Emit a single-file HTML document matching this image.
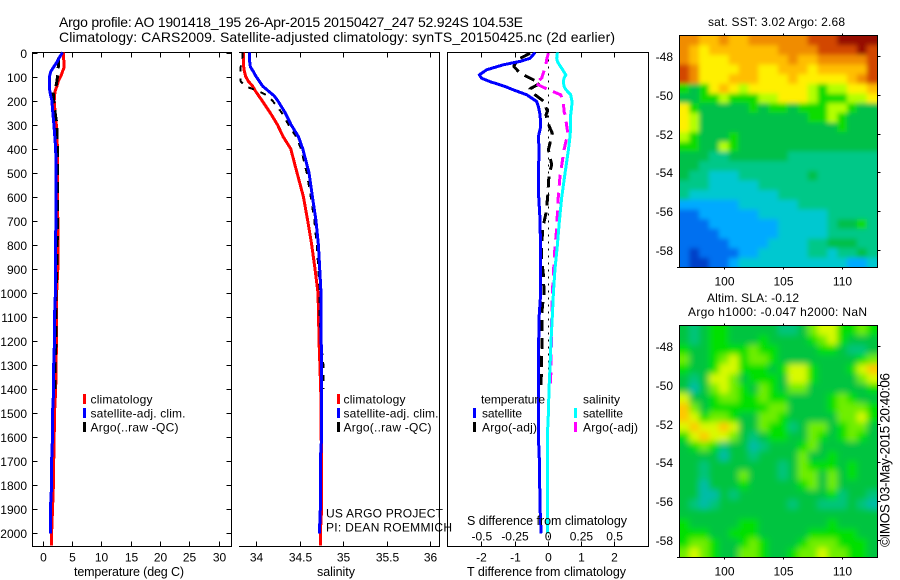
<!DOCTYPE html>
<html lang="en">
<head>
<meta charset="utf-8">
<title>Argo profile 1901418_195</title>
<style>
html,body{margin:0;padding:0;background:#fff;width:900px;height:580px;overflow:hidden}
svg{display:block}
text{font-family:"Liberation Sans",Arial,sans-serif;font-size:12px;fill:#000}
.title{font-size:14px}
.lab{font-size:12.5px}
.credit{font-size:13.5px}
</style>
</head>
<body>
<svg id="chart" xmlns="http://www.w3.org/2000/svg" width="900" height="580" viewBox="0 0 900 580">
<defs>
<clipPath id="clip-sst"><rect x="680" y="36" width="197" height="231"/></clipPath>
<clipPath id="clip-sla"><rect x="680" y="326" width="197" height="231"/></clipPath>
<filter id="soft" x="-5%" y="-5%" width="110%" height="110%"><feGaussianBlur stdDeviation="2.4"/></filter>
<filter id="softer" x="-5%" y="-5%" width="110%" height="110%"><feGaussianBlur stdDeviation="3.2"/></filter>
</defs>
<rect width="900" height="580" fill="#fff"/>
<g id="sst-cells" clip-path="url(#clip-sst)"><g id="sst-inner" filter="url(#soft)"></g></g>
<g id="sla-cells" clip-path="url(#clip-sla)"><g id="sla-inner" filter="url(#softer)"></g></g>
<g id="axes"></g>
<g id="series"></g>

<text class="title" x="59" y="27" textLength="464" lengthAdjust="spacing">Argo profile: AO 1901418_195 26-Apr-2015 20150427_247 52.924S 104.53E</text>
<text class="title" x="59" y="42" textLength="556" lengthAdjust="spacing">Climatology: CARS2009. Satellite-adjusted climatology: synTS_20150425.nc (2d earlier)</text>

<text class="lab" x="74" y="576" textLength="110" lengthAdjust="spacing">temperature (deg C)</text>
<text class="lab" x="317" y="576" textLength="38" lengthAdjust="spacing">salinity</text>
<text class="lab" x="467" y="576" textLength="159" lengthAdjust="spacing">T difference from climatology</text>
<text class="lab" x="467" y="525" textLength="160" lengthAdjust="spacing">S difference from climatology</text>

<g>
<rect x="83" y="394" width="3" height="10" fill="#f00"/>
<text x="90.5" y="403.5" textLength="62" lengthAdjust="spacing">climatology</text>
<rect x="83" y="408" width="3" height="10" fill="#00f"/>
<text x="90.5" y="417.5" textLength="95" lengthAdjust="spacing">satellite-adj. clim.</text>
<rect x="83" y="422" width="3" height="10" fill="#000"/>
<text x="90.5" y="431.5" textLength="88" lengthAdjust="spacing">Argo(..raw -QC)</text>
</g>
<g>
<rect x="337" y="394" width="3" height="10" fill="#f00"/>
<text x="343.5" y="403.5" textLength="62" lengthAdjust="spacing">climatology</text>
<rect x="337" y="408" width="3" height="10" fill="#00f"/>
<text x="343.5" y="417.5" textLength="95" lengthAdjust="spacing">satellite-adj. clim.</text>
<rect x="337" y="422" width="3" height="10" fill="#000"/>
<text x="343.5" y="431.5" textLength="88" lengthAdjust="spacing">Argo(..raw -QC)</text>
</g>
<text x="326" y="517.5" textLength="117" lengthAdjust="spacing">US ARGO PROJECT</text>
<text x="326" y="531.5" textLength="126" lengthAdjust="spacing">PI: DEAN ROEMMICH</text>

<g>
<text x="481" y="403.5" textLength="64" lengthAdjust="spacing">temperature</text>
<rect x="473" y="408" width="3" height="10" fill="#00f"/>
<text x="482" y="417.5" textLength="40" lengthAdjust="spacing">satellite</text>
<rect x="473" y="422" width="3" height="10" fill="#000"/>
<text x="482" y="431.5" textLength="55" lengthAdjust="spacing">Argo(-adj)</text>
<text x="583" y="403.5" textLength="37" lengthAdjust="spacing">salinity</text>
<rect x="574" y="408" width="3" height="10" fill="#0ff"/>
<text x="583" y="417.5" textLength="40" lengthAdjust="spacing">satellite</text>
<rect x="574" y="422" width="3" height="10" fill="#f0f"/>
<text x="583" y="431.5" textLength="55" lengthAdjust="spacing">Argo(-adj)</text>
</g>

<text x="708" y="26" textLength="137" lengthAdjust="spacing">sat. SST: 3.02 Argo: 2.68</text>
<text x="707" y="302" textLength="92" lengthAdjust="spacing">Altim. SLA: -0.12</text>
<text x="688" y="316" textLength="179" lengthAdjust="spacing">Argo h1000: -0.047 h2000: NaN</text>
<text class="credit" transform="translate(889.5,547) rotate(-90)" x="0" y="0" textLength="174" lengthAdjust="spacing">©IMOS 03-May-2015 20:40:06</text>
</svg>

<script>
/* ---------- chart data ---------- */
const depthTicks = [0,100,200,300,400,500,600,700,800,900,1000,1100,1200,1300,1400,1500,1600,1700,1800,1900,2000];
const tempTicks = [0,5,10,15,20,25,30];
const salTicks = [34,34.5,35,35.5,36];
const tDiffTicks = [-2,-1,0,1,2];
const sDiffTicks = [-0.5,-0.25,0,0.25,0.5];
const lonTicks = [100,105,110];
const latTicks = [-48,-50,-52,-54,-56,-58];

const tempDepths = [0,20,40,60,80,100,120,140,160,180,200,250,300,350,400,500,600,700,800,900,1000,1100,1200,1300,1400,1500,1600,1700,1800,1900,2000,2050];
const tempClim = [3.6,3.6,3.65,3.7,3.4,3.1,2.7,2.45,2.15,2.05,2.0,2.15,2.35,2.45,2.55,2.55,2.55,2.6,2.6,2.6,2.4,2.4,2.4,2.3,2.25,2.05,2.0,1.9,1.85,1.7,1.55,1.5];
const tempSat = [3.4,2.9,2.45,1.9,1.4,1.2,1.15,1.15,1.25,1.4,1.6,1.75,1.95,2.1,2.25,2.3,2.3,2.3,2.2,2.2,2.2,2.05,2.05,1.9,1.9,1.7,1.7,1.55,1.55,1.35,1.35,null];
const tempArgo = [null,2.7,2.7,2.7,2.6,2.55,2.45,2.3,1.8,1.85,1.9,2.15,2.45,2.5,2.55,2.55,2.55,2.55,2.5,2.45,2.3,2.3,2.3,2.15,2.15,null,null,null,null,null,null,null];

const salDepths = [0,30,60,80,90,100,120,140,160,180,200,250,300,350,400,500,600,700,800,900,1000,1100,1200,1300,1400,1500,1600,1700,1800,1900,2000,2050];
const salClim = [33.854,33.854,33.854,33.862,33.87,33.877,33.908,33.958,33.989,34.027,34.065,34.157,34.241,34.307,34.395,34.467,34.54,34.59,34.636,34.674,34.709,34.715,34.72,34.73,34.74,34.745,34.745,34.75,34.75,34.75,34.735,34.735];
const salSat = [33.92,33.92,33.931,33.966,33.981,33.996,34.034,34.073,34.138,34.203,34.245,34.33,34.398,34.483,34.533,34.605,34.644,34.686,34.713,34.728,34.743,34.745,34.745,34.75,34.75,34.75,34.75,34.735,34.735,34.735,34.725,null];
const salArgo = [33.843,33.835,33.82,33.816,33.816,33.816,33.82,33.87,34.023,34.13,34.184,34.291,34.368,34.456,34.513,34.579,34.625,34.667,34.693,34.713,34.728,34.728,34.743,34.77,34.77,null,null,null,null,null,null,null];

const satDiffDepths = [0,24,37,51,72,93,107,121,141,155,176,204,225,259,308,350,405,500,600,700,800,900,1000,1100,1200,1300,1400,1500,1600,1700,1800,1900,2000];
const tDiffSat = [-0.38,-0.53,-0.83,-1.34,-1.84,-2.06,-1.99,-1.74,-1.29,-1.04,-0.63,-0.33,-0.28,-0.23,-0.21,-0.28,-0.26,-0.28,-0.27,-0.23,-0.22,-0.21,-0.21,-0.26,-0.27,-0.28,-0.28,-0.28,-0.28,-0.25,-0.24,-0.23,-0.2];
const sDiffSat = [0.073,0.068,0.073,0.088,0.113,0.136,0.123,0.118,0.123,0.138,0.173,0.183,0.181,0.173,0.173,0.168,0.156,0.131,0.106,0.088,0.073,0.055,0.043,0.035,0.025,0.018,0.01,0.005,-0.003,-0.003,-0.003,-0.003,-0.003];

const argoDiffDepths = [3,30,58,86,107,128,151,176,204,245,259,305,336,405,467,509,599,668,731,807,862,925,1001,1057,1100,1200,1300,1400];
const tDiffArgo = [-0.53,-0.91,-1.02,-0.83,-0.53,-0.23,-0.53,-0.38,-0.11,-0.01,-0.05,0.04,0.14,0.02,0.12,0.04,0,-0.05,-0.15,-0.18,-0.18,-0.13,-0.11,-0.16,-0.18,-0.17,-0.19,-0.2];
const sDiffArgo = [0.005,-0.008,-0.015,-0.033,-0.045,-0.095,-0.008,0.098,0.118,0.123,0.131,0.143,0.151,0.123,0.106,0.093,0.08,0.073,0.068,0.055,0.048,0.043,0.035,0.033,0.03,0.028,0.025,0.02];

/* colour-class values per map cell, north to south, west to east */
const sstRows = [
[10,10,9,9,10,9,9,10,10,10,10,10,10,11,11,11,12,12,12,12],
[10,9,8,9,9,9,9,9,9,9,10,10,10,10,11,11,11,11,12,11],
[10,9,8,8,8,9,9,9,9,9,9,10,9,9,10,10,10,10,10,11],
[11,10,8,8,8,8,9,9,8,8,9,9,9,8,9,9,9,9,9,11],
[11,10,8,8,8,9,9,9,8,8,8,9,8,8,8,8,8,9,10,11],
[6,5,6,8,9,8,7,8,8,8,8,8,8,7,6,7,7,8,8,9],
[5,5,6,6,7,6,6,6,7,7,8,8,8,7,6,6,6,7,7,8],
[8,6,5,5,5,5,5,6,5,6,6,5,6,6,6,7,7,6,5,5],
[8,7,5,5,5,5,5,5,5,5,5,5,5,6,6,7,6,5,5,5],
[8,7,5,5,5,5,5,5,5,5,5,5,5,5,5,5,6,5,5,5],
[7,6,5,5,5,6,5,5,5,5,5,5,5,5,5,5,5,5,5,5],
[6,6,5,5,7,6,5,5,5,5,5,5,5,5,5,5,5,5,5,5],
[5,5,5,4,4,5,5,5,5,5,5,4,4,4,4,4,4,4,4,4],
[5,5,4,4,4,4,4,4,4,4,4,4,4,4,4,4,4,4,4,4],
[5,4,4,3,3,3,4,4,4,4,4,4,4,5,4,4,4,4,4,4],
[4,4,4,3,3,3,3,3,4,4,4,4,4,4,4,4,4,4,4,4],
[4,3,3,3,3,3,3,3,3,3,4,4,4,4,4,4,4,4,4,4],
[2,2,2,2,2,2,3,3,3,3,3,3,4,4,4,4,4,4,4,4],
[1,1,2,2,2,2,2,2,3,3,3,3,3,3,3,4,4,4,4,4],
[1,1,1,2,2,2,2,2,2,2,3,3,3,3,3,4,5,5,6,4],
[1,1,1,1,2,2,2,2,2,2,3,3,3,3,3,4,4,4,4,4],
[1,1,1,1,1,2,2,2,2,3,3,3,3,4,4,5,5,5,4,4],
[1,0,1,1,1,1,2,2,3,3,3,3,3,4,4,3,4,4,5,4],
[1,0,0,1,1,2,3,3,3,3,3,3,3,3,3,3,3,2,2,3]
];
const slaRows = [
[5,4,5,6,6,5,5,5,5,5,4,4,5,7,8,8,6,6,7,6],
[5,4,5,6,6,5,5,5,6,5,5,5,5,6,7,8,6,5,5,5],
[6,5,5,6,6,6,6,7,6,6,5,5,5,5,6,6,5,4,4,5],
[7,5,5,6,7,8,6,7,7,6,5,5,5,5,5,5,5,5,6,7],
[6,5,5,6,8,8,6,6,6,5,6,8,8,6,5,5,5,6,8,9],
[5,4,5,8,8,7,5,6,6,6,5,8,8,6,5,5,5,5,7,8],
[5,3,5,7,8,7,6,5,7,6,5,7,7,5,5,5,5,5,5,6],
[8,5,5,6,7,7,6,6,7,6,6,5,5,5,5,6,7,6,5,5],
[9,7,5,6,6,6,6,6,6,7,7,5,5,5,5,6,7,7,7,6],
[9,8,6,7,7,6,5,5,7,7,6,5,5,5,5,5,7,7,8,6],
[8,9,8,8,9,8,5,5,7,6,6,4,5,7,7,5,6,7,7,5],
[6,8,9,8,8,7,5,4,5,6,6,5,5,7,6,5,6,7,6,5],
[5,6,7,6,4,5,5,3,4,5,5,5,6,7,5,5,5,5,5,5],
[5,5,5,5,3,5,5,4,5,5,5,5,7,5,5,6,5,5,5,5],
[5,5,4,5,5,5,5,5,5,5,4,5,7,6,6,6,5,6,5,5],
[5,5,4,5,5,5,7,5,5,5,4,5,7,7,5,7,5,6,5,5],
[5,5,3,5,5,5,6,5,5,5,5,5,6,7,5,7,5,5,5,5],
[5,5,3,3,5,4,5,5,5,5,5,5,5,5,5,6,4,5,5,4],
[5,4,3,4,5,5,5,5,5,5,5,4,5,5,4,4,4,5,4,3],
[5,5,5,5,5,5,5,5,5,5,5,5,5,5,5,5,5,5,5,5],
[6,5,5,5,5,5,6,6,5,5,5,5,5,5,5,6,5,5,5,5],
[6,6,6,5,5,6,6,6,5,5,5,5,5,6,6,6,6,6,5,5],
[6,7,7,6,5,5,6,7,6,5,5,5,6,7,7,7,6,6,6,5],
[7,8,7,6,5,5,7,7,6,5,5,6,7,7,8,7,7,6,6,5]
];

/* ---------- axis functions ---------- */
const NS = 'http://www.w3.org/2000/svg';
const axesG = document.getElementById('axes');
const seriesG = document.getElementById('series');
const yDepth = d => 52.5 + d * 0.2404;
const xTemp = t => 42.5 + t * 5.87;
const xSal = s => 256.4 + (s - 34) * 86.95;
const xTDiff = t => 547.7 + t * 33.2;
const xSDiff = s => xTDiff(s * 4);
const xLon = l => 724.3 + (l - 100) * 11.74;
const yLat1 = l => 56 + (-48 - l) * 19.4;
const yLat2 = l => 346 + (-48 - l) * 19.4;
const LON_MIN = 96.17, LON_MAX = 112.98, LAT_N = -46.94, LAT_S = -58.9;
const sstPalette = ['#0040c8','#0070f0','#00aaff','#00c8d0','#00c888','#00c048','#10dc00','#b4ff00','#fff000','#ffbe00','#f08c00','#d24600','#960a00'];
const slaPalette = ['#00a0d0','#00a8d0','#00b0d0','#00bca8','#00c47c','#00c440','#00e000','#70ee00','#d8fa00','#ffc800'];

function mk(tag, attrs, parent) {
  const el = document.createElementNS(NS, tag);
  for (const k in attrs) el.setAttribute(k, attrs[k]);
  parent.appendChild(el);
  return el;
}
function rule(x1, y1, x2, y2, name) {
  const el = mk('line', {x1: x1, y1: y1, x2: x2, y2: y2, stroke: '#000', 'stroke-width': 1, 'shape-rendering': 'crispEdges'}, axesG);
  
  
  return el;
}
function label(x, y, txt, anchor, name) {
  const el = mk('text', {x: x, y: y, 'text-anchor': anchor}, axesG);
  el.textContent = txt;
  
  
  return el;
}
function drawProfile(depths, values, xFn, color, width, dash, name) {
  const pts = [];
  depths.forEach((d, i) => { if (values[i] !== null) pts.push(xFn(values[i]).toFixed(1) + ',' + yDepth(d).toFixed(1)); });
  const el = mk('polyline', {points: pts.join(' '), fill: 'none', stroke: color, 'stroke-width': width, 'stroke-linejoin': 'round', 'shape-rendering': 'crispEdges'}, seriesG);
  if (dash) el.setAttribute('stroke-dasharray', dash);
  
  
}
function drawCells(rows, palette, parentId, top, bottom, name) {
  const parent = document.getElementById(parentId);
  const nR = rows.length, nC = rows[0].length;
  const yOf = lat => top + (LAT_N - lat) / (LAT_N - LAT_S) * (bottom - top);
  rows.forEach((row, r) => row.forEach((v, c) => {
    const lonA = LON_MIN + (LON_MAX - LON_MIN) * c / nC;
    const lonB = LON_MIN + (LON_MAX - LON_MIN) * (c + 1) / nC;
    const latA = LAT_N + (LAT_S - LAT_N) * r / nR;
    const latB = LAT_N + (LAT_S - LAT_N) * (r + 1) / nR;
    const x0 = xLon(lonA) - (c === 0 ? 14 : 0);
    const x1 = xLon(lonB) + (c === nC - 1 ? 14 : 0.5);
    const y0 = yOf(latA) - (r === 0 ? 14 : 0);
    const y1 = yOf(latB) + (r === nR - 1 ? 14 : 0.5);
    const el = mk('rect', {x: x0.toFixed(2), y: y0.toFixed(2), width: (x1 - x0).toFixed(2), height: (y1 - y0).toFixed(2), fill: palette[v]}, parent);
    
    
  }));
}

/* ---------- heatmaps ---------- */
drawCells(sstRows, sstPalette, 'sst-inner', 35.5, 267.5, 'sst-cell');
drawCells(slaRows, slaPalette, 'sla-inner', 325.5, 557.5, 'sla-cell');

/* ---------- profile frames ---------- */
const TOP = 52.5, BOT = 546.5;
// temperature panel
rule(32.5, TOP, 32.5, BOT, 'temperature-left-axis');
rule(231.5, TOP, 231.5, BOT, 'temperature-right-axis');
rule(32, TOP, 232, TOP, 'temperature-top-axis');
rule(32, BOT, 232, BOT, 'temperature-bottom-axis');
depthTicks.forEach(d => {
  const y = Math.round(yDepth(d)) + 0.5;
  rule(32.5, y, 37.5, y, 'depth-tick-left');
  rule(226.5, y, 231.5, y, 'depth-tick-right');
  label(27, y + 4.5, String(d), 'end', 'depth-tick-label');
});
tempTicks.forEach(t => {
  const x = Math.round(xTemp(t)) + 0.5;
  rule(x, TOP, x, TOP + 5, 'temperature-tick-top');
  rule(x, BOT - 5, x, BOT, 'temperature-tick-bottom');
  label(x, 561.5, String(t), 'middle', 'temperature-tick-label');
});
// salinity panel
rule(439.5, TOP, 439.5, BOT, 'salinity-right-axis');
rule(239, TOP, 440, TOP, 'salinity-top-axis');
rule(239, BOT, 440, BOT, 'salinity-bottom-axis');
salTicks.forEach(s => {
  const x = Math.round(xSal(s)) + 0.5;
  rule(x, TOP, x, TOP + 5, 'salinity-tick-top');
  rule(x, BOT - 5, x, BOT, 'salinity-tick-bottom');
  label(x, 561.5, String(s), 'middle', 'salinity-tick-label');
});
// difference panel
rule(447.5, TOP, 447.5, BOT, 'difference-left-axis');
rule(648.5, TOP, 648.5, BOT, 'difference-right-axis');
rule(447, TOP, 649, TOP, 'difference-top-axis');
rule(447, BOT, 649, BOT, 'difference-bottom-axis');
tDiffTicks.forEach(t => {
  const x = Math.round(xTDiff(t)) + 0.5;
  rule(x, TOP, x, TOP + 5, 'tdiff-tick-top');
  rule(x, BOT - 5, x, BOT, 'tdiff-tick-bottom');
  label(x, 561.5, String(t), 'middle', 'tdiff-tick-label');
});

/* ---------- series, back to front ---------- */
drawProfile(tempDepths, tempClim, xTemp, '#f00', 3, null, 'temperature-climatology-line');
drawProfile(tempDepths, tempArgo, xTemp, '#000', 3, '11 7', 'temperature-argo-line');
drawProfile(tempDepths, tempSat, xTemp, '#00f', 3, null, 'temperature-satellite-line');
drawProfile(salDepths, salClim, xSal, '#f00', 3, null, 'salinity-climatology-line');
drawProfile(salDepths, salArgo, xSal, '#000', 2, '6 7', 'salinity-argo-line');
drawProfile(salDepths, salSat, xSal, '#00f', 3, null, 'salinity-satellite-line');

const zeroLine = mk('line', {x1: 548.5, y1: TOP, x2: 548.5, y2: BOT, stroke: '#000', 'stroke-width': 1, 'stroke-dasharray': '2 5', 'shape-rendering': 'crispEdges'}, seriesG);


drawProfile(argoDiffDepths, tDiffArgo, xTDiff, '#000', 3, '11 7', 'tdiff-argo-line');
drawProfile(argoDiffDepths, sDiffArgo, xSDiff, '#f0f', 3, '11 7', 'sdiff-argo-line');
drawProfile(satDiffDepths, tDiffSat, xTDiff, '#00f', 3, null, 'tdiff-satellite-line');
drawProfile(satDiffDepths, sDiffSat, xSDiff, '#0ff', 3, null, 'sdiff-satellite-line');

/* labels that sit on top of the lines */
sDiffTicks.forEach(s => {
  const el = label(xSDiff(s) + 0.5, 540.5, String(s), 'middle', 'sdiff-tick-label');
  seriesG.appendChild(el);
});

/* ---------- map frames ---------- */
[[35.5, 267.5, yLat1, 'sst'], [325.5, 557.5, yLat2, 'sla']].forEach(m => {
  const t = m[0], b = m[1], yFn = m[2], n = m[3];
  rule(679.5, t, 679.5, b, n + '-map-left-axis');
  rule(877.5, t, 877.5, b, n + '-map-right-axis');
  rule(679, t, 878, t, n + '-map-top-axis');
  rule(679, b, 878, b, n + '-map-bottom-axis');
  rule(677, b, 680, b, n + '-map-corner-tick');
  lonTicks.forEach(l => {
    const x = Math.round(xLon(l)) + 0.5;
    rule(x, t - 2, x, t, n + '-lon-tick-top');
    rule(x, b, x, b + 2, n + '-lon-tick-bottom');
    label(x, b + 18, String(l), 'middle', n + '-lon-tick-label');
  });
  latTicks.forEach(l => {
    const y = Math.round(yFn(l)) + 0.5;
    rule(877.5, y, 880.5, y, n + '-lat-tick-right');
    label(673, y + 4.5, String(l), 'end', n + '-lat-tick-label');
  });
});
</script>
</body>
</html>
